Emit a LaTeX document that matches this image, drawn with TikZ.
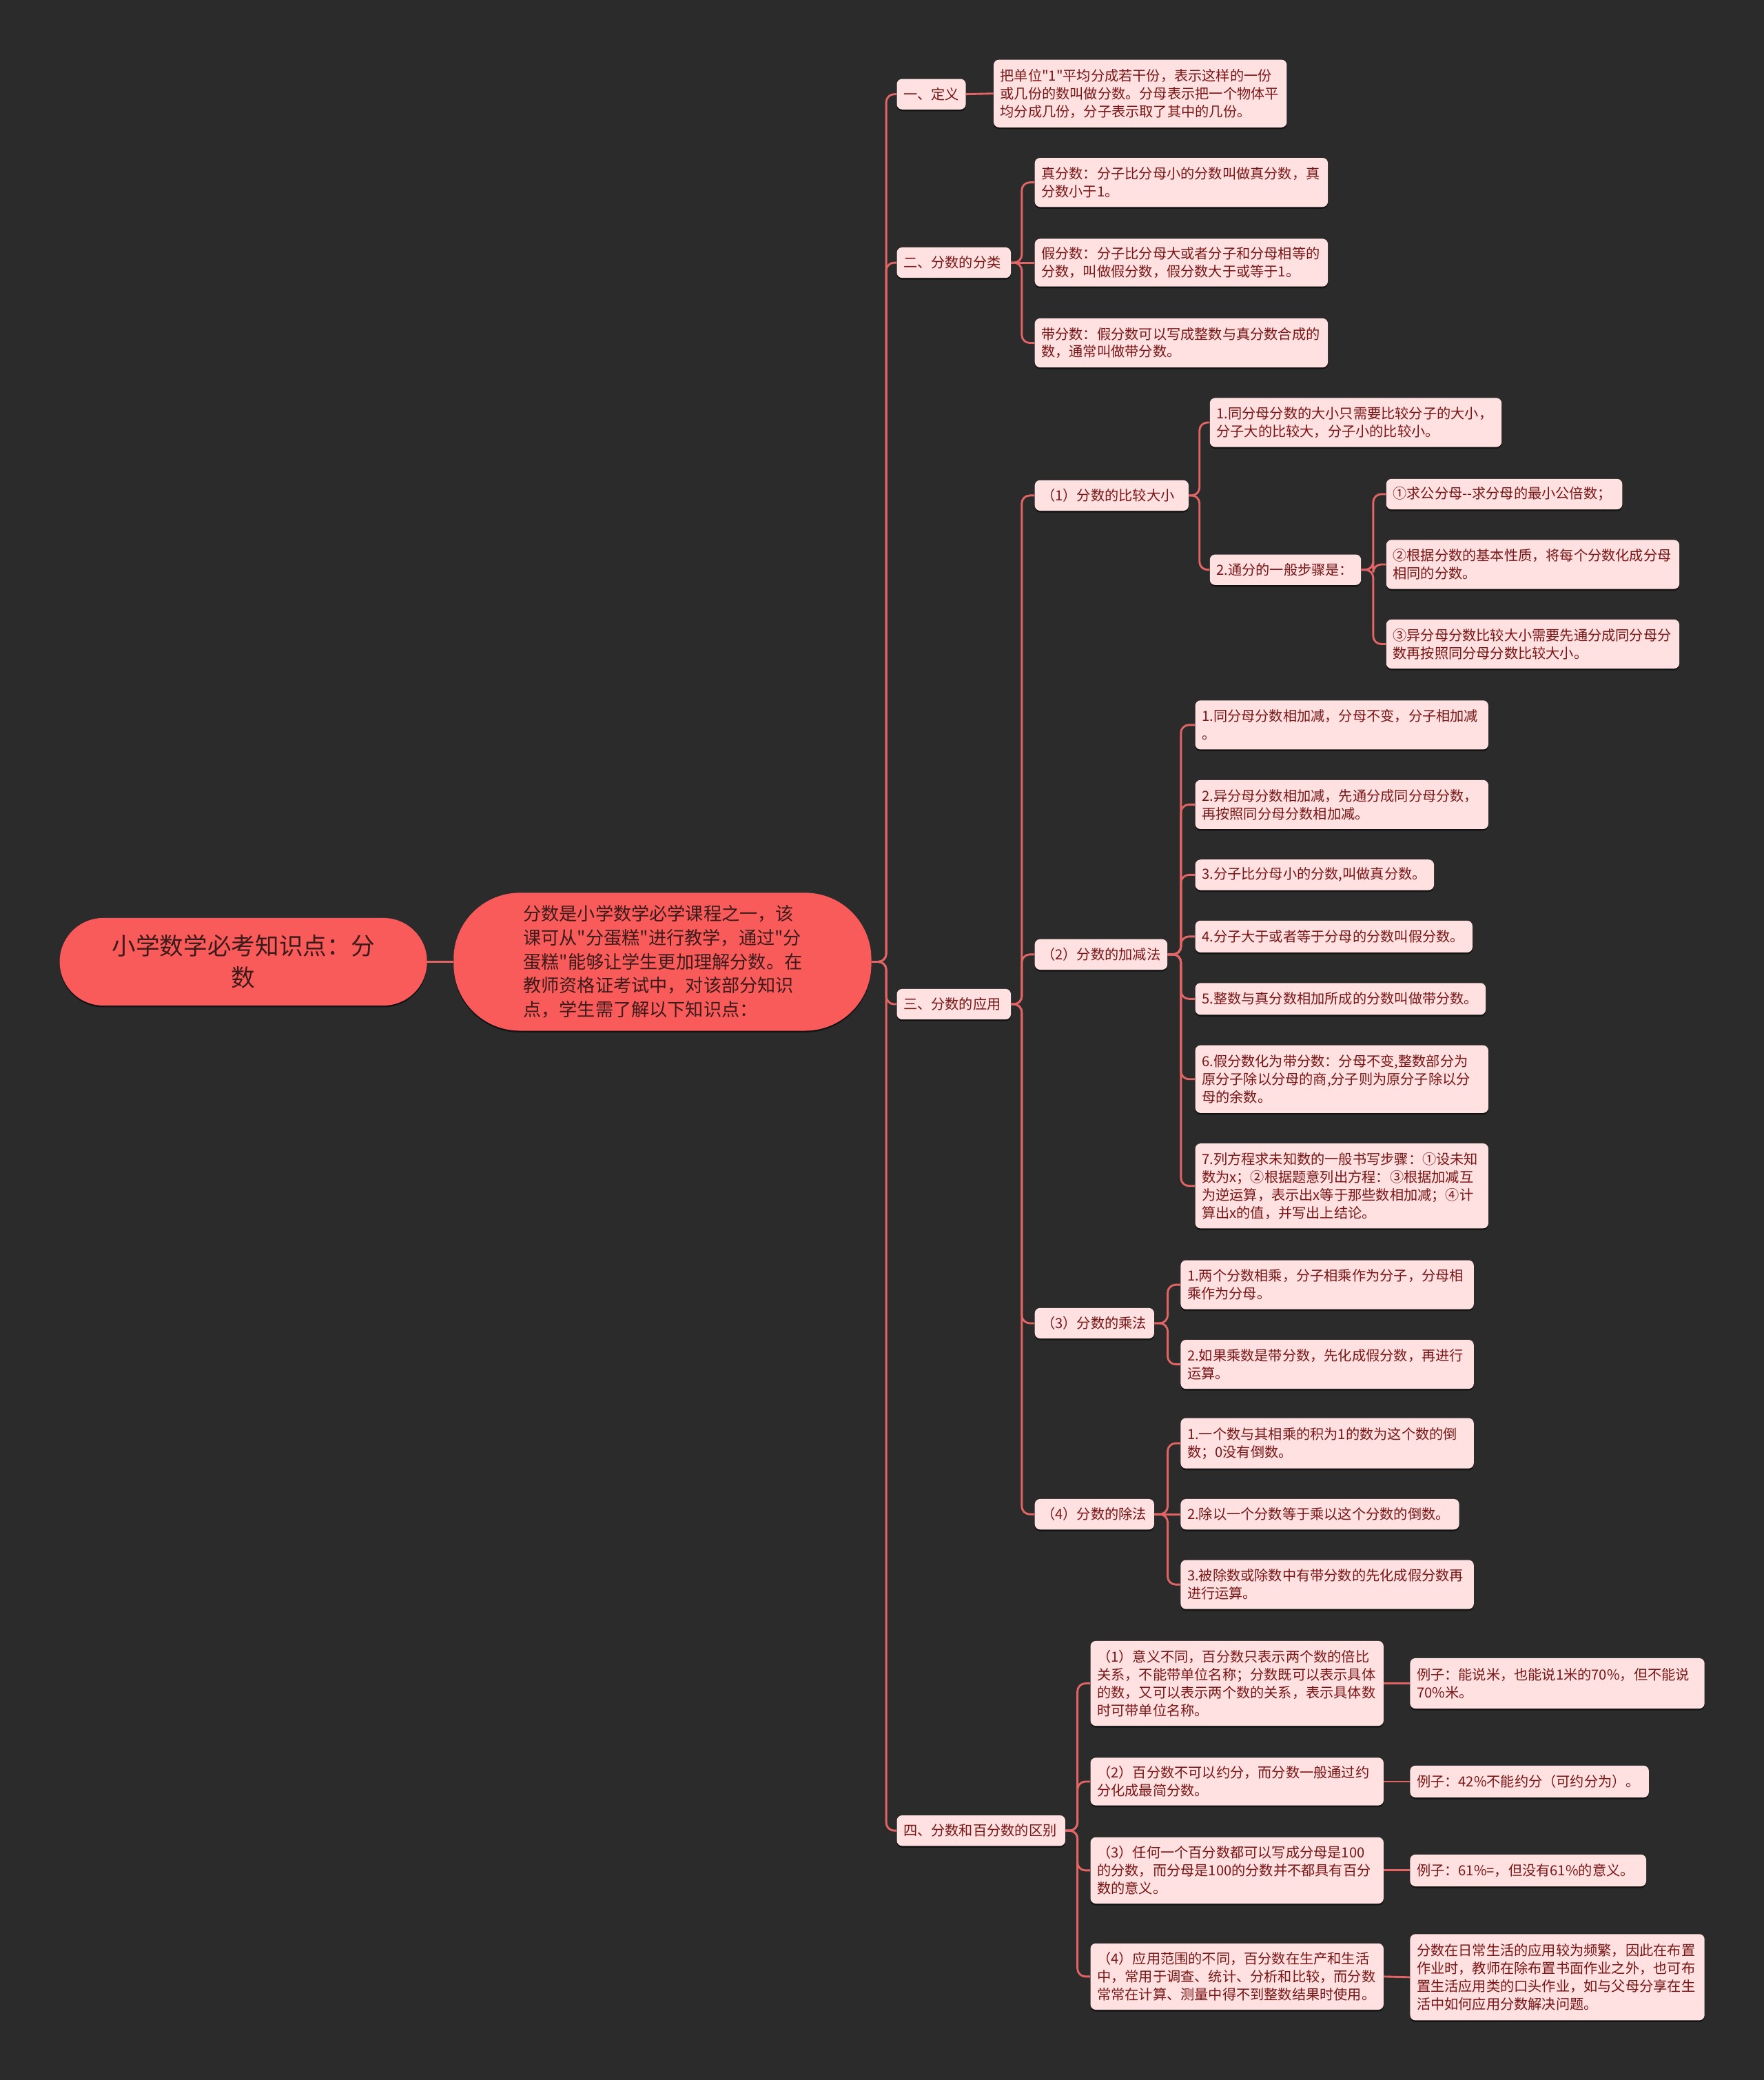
\documentclass[tikz,border=0pt]{standalone}
\usepackage{fontspec}
\setmainfont{Noto Sans CJK SC}[Ligatures=TeXOff]
\usetikzlibrary{shadows}
\definecolor{bg}{HTML}{2B2B2B}
\definecolor{rootfill}{HTML}{F95B5B}
\definecolor{roottext}{HTML}{3D1A1A}
\definecolor{leaffill}{HTML}{FFE1E1}
\definecolor{leaftext}{HTML}{7A1515}
\definecolor{linec}{HTML}{E36464}
\begin{document}
\begin{tikzpicture}[x=1pt,y=-1pt,
  shad/.style={drop shadow={shadow xshift=0pt,shadow yshift=-1.3pt,opacity=0.55,fill=black}},
  leaf/.style={anchor=west, fill=leaffill, text=leaftext, rounded corners=4pt,
    inner xsep=5pt, inner ysep=0pt, align=left,
    font=\fontsize{10.5}{13.5}\selectfont, shad},
  big/.style={fill=rootfill, text=roottext, inner sep=0pt, shad},
  conn/.style={draw=linec, line width=1.5pt, rounded corners=6pt},
]
\useasboundingbox (0,0) rectangle (1330,1568);
\fill[bg] (0,0) rectangle (1330,1568);

% root and centre
\node[big, rounded corners=32.9pt, minimum width=277pt, minimum height=66pt,
  align=center, font=\fontsize{18}{24}\selectfont] (root) at (183.5,725)
  {小学数学必考知识点：分\\数};
\node[big, rounded corners=50pt, minimum width=315pt, minimum height=104pt,
  text width=210pt, align=left, font=\fontsize{13.6}{18}\selectfont] (ctr) at (499.5,725)
  {分数是小学数学必学课程之一，该\\课可从"分蛋糕"进行教学，通过"分\\蛋糕"能够让学生更加理解分数。在\\教师资格证考试中，对该部分知识\\点，学生需了解以下知识点：};

% level 1
\node[leaf, text width=42pt, minimum height=23pt] (L1a) at (676,71) {一、定义};
\node[leaf, text width=76pt, minimum height=23pt] (L1b) at (676,198) {二、分数的分类};
\node[leaf, text width=76pt, minimum height=23pt] (L1c) at (676,757) {三、分数的应用};
\node[leaf, text width=117pt, minimum height=23pt] (L1d) at (676,1380) {四、分数和百分数的区别};

% definition
\node[leaf, text width=211pt, minimum height=51pt] (D1) at (749,70.5)
  {把单位"1"平均分成若干份，表示这样的一份\\或几份的数叫做分数。分母表示把一个物体平\\均分成几份，分子表示取了其中的几份。};

% classification
\node[leaf, text width=211pt, minimum height=37pt] (C1) at (780,137.5)
  {真分数：分子比分母小的分数叫做真分数，真\\分数小于1。};
\node[leaf, text width=211pt, minimum height=36pt] (C2) at (780,198)
  {假分数：分子比分母大或者分子和分母相等的\\分数，叫做假分数，假分数大于或等于1。};
\node[leaf, text width=211pt, minimum height=37pt] (C3) at (780,258.5)
  {带分数：假分数可以写成整数与真分数合成的\\数，通常叫做带分数。};

% application
\node[leaf, text width=106pt, minimum height=23pt] (A1) at (780,373.5) {（1）分数的比较大小};
\node[leaf, text width=90pt, minimum height=23pt] (A2) at (780,719.5) {（2）分数的加减法};
\node[leaf, text width=80pt, minimum height=23pt] (A3) at (780,997.5) {（3）分数的乘法};
\node[leaf, text width=80pt, minimum height=23pt] (A4) at (780,1141.5) {（4）分数的除法};

% (1)
\node[leaf, text width=210pt, minimum height=37pt] (B1) at (912,318.5)
  {1.同分母分数的大小只需要比较分子的大小，\\分子大的比较大，分子小的比较小。};
\node[leaf, text width=104pt, minimum height=23pt] (B2) at (912,429.5) {2.通分的一般步骤是：};
\node[leaf, text width=168pt, minimum height=23pt] (E1) at (1045,372.5) {①求公分母-{}-求分母的最小公倍数；};
\node[leaf, text width=211pt, minimum height=37pt] (E2) at (1045,425.5)
  {②根据分数的基本性质，将每个分数化成分母\\相同的分数。};
\node[leaf, text width=211pt, minimum height=37pt] (E3) at (1045,485.5)
  {③异分母分数比较大小需要先通分成同分母分\\数再按照同分母分数比较大小。};

% (2)
\node[leaf, text width=211pt, minimum height=37pt] (F1) at (901,546.5)
  {1.同分母分数相加减，分母不变，分子相加减\\。};
\node[leaf, text width=211pt, minimum height=37pt] (F2) at (901,606.5)
  {2.异分母分数相加减，先通分成同分母分数，\\再按照同分母分数相加减。};
\node[leaf, text width=170pt, minimum height=23pt] (F3) at (901,659.5) {3.分子比分母小的分数,叫做真分数。};
\node[leaf, text width=199pt, minimum height=24pt] (F4) at (901,706) {4.分子大于或者等于分母的分数叫假分数。};
\node[leaf, text width=209pt, minimum height=24pt] (F5) at (901,753) {5.整数与真分数相加所成的分数叫做带分数。};
\node[leaf, text width=211pt, minimum height=51pt] (F6) at (901,813.5)
  {6.假分数化为带分数：分母不变,整数部分为\\原分子除以分母的商,分子则为原分子除以分\\母的余数。};
\node[leaf, text width=211pt, minimum height=64pt] (F7) at (901,894)
  {7.列方程求未知数的一般书写步骤：①设未知\\数为x；②根据题意列出方程：③根据加减互\\为逆运算，表示出x等于那些数相加减；④计\\算出x的值，并写出上结论。};

% (3)
\node[leaf, text width=211pt, minimum height=37pt] (G1) at (890,968.5)
  {1.两个分数相乘，分子相乘作为分子，分母相\\乘作为分母。};
\node[leaf, text width=211pt, minimum height=37pt] (G2) at (890,1028.5)
  {2.如果乘数是带分数，先化成假分数，再进行\\运算。};

% (4)
\node[leaf, text width=211pt, minimum height=38pt] (H1) at (890,1088)
  {1.一个数与其相乘的积为1的数为这个数的倒\\数；0没有倒数。};
\node[leaf, text width=200pt, minimum height=23pt] (H2) at (890,1141.5) {2.除以一个分数等于乘以这个分数的倒数。};
\node[leaf, text width=211pt, minimum height=37pt] (H3) at (890,1194.5)
  {3.被除数或除数中有带分数的先化成假分数再\\进行运算。};

% four
\node[leaf, text width=211pt, minimum height=64pt] (P1) at (822,1269)
  {（1）意义不同，百分数只表示两个数的倍比\\关系，不能带单位名称；分数既可以表示具体\\的数，又可以表示两个数的关系，表示具体数\\时可带单位名称。};
\node[leaf, text width=211pt, minimum height=36pt] (P2) at (822,1343)
  {（2）百分数不可以约分，而分数一般通过约\\分化成最简分数。};
\node[leaf, text width=211pt, minimum height=50pt] (P3) at (822,1410)
  {（3）任何一个百分数都可以写成分母是100\\的分数，而分母是100的分数并不都具有百分\\数的意义。};
\node[leaf, text width=211pt, minimum height=50pt] (P4) at (822,1490)
  {（4）应用范围的不同，百分数在生产和生活\\中，常用于调查、统计、分析和比较，而分数\\常常在计算、测量中得不到整数结果时使用。};

\node[leaf, text width=212pt, minimum height=38pt] (Q1) at (1063,1269)
  {例子：能说米，也能说1米的70\%，但不能说\\70\%米。};
\node[leaf, text width=170pt, minimum height=24pt] (Q2) at (1063,1343) {例子：42\%不能约分（可约分为）。};
\node[leaf, text width=168pt, minimum height=24pt] (Q3) at (1063,1410) {例子：61\%=，但没有61\%的意义。};
\node[leaf, text width=212pt, minimum height=65pt] (Q4) at (1063,1490.5)
  {分数在日常生活的应用较为频繁，因此在布置\\作业时，教师在除布置书面作业之外，也可布\\置生活应用类的口头作业，如与父母分享在生\\活中如何应用分数解决问题。};

% connectors
\draw[conn] (root.east) -- (ctr.west);
\foreach \c in {L1a,L1b,L1c,L1d} \draw[conn] (ctr.east) -- ++(11,0) |- (\c.west);
\draw[conn] (L1a.east) -- (D1.west);
\foreach \c in {C1,C3} \draw[conn] (L1b.east) -- ++(8,0) |- (\c.west);
\draw[conn] (L1b.east) -- (C2.west);
\foreach \c in {A1,A2,A3,A4} \draw[conn] (L1c.east) -- ++(8,0) |- (\c.west);
\foreach \c in {B1,B2} \draw[conn] (A1.east) -- ++(8,0) |- (\c.west);
\foreach \c in {E1,E2,E3} \draw[conn] (B2.east) -- ++(9,0) |- (\c.west);
\foreach \c in {F1,F2,F3,F4,F5,F6,F7} \draw[conn] (A2.east) -- ++(10,0) |- (\c.west);
\foreach \c in {G1,G2} \draw[conn] (A3.east) -- ++(10,0) |- (\c.west);
\foreach \c in {H1,H3} \draw[conn] (A4.east) -- ++(10,0) |- (\c.west);
\draw[conn] (A4.east) -- (H2.west);
\foreach \c in {P1,P2,P3,P4} \draw[conn] (L1d.east) -- ++(9,0) |- (\c.west);
\draw[conn] (P1.east) -- (Q1.west);
\draw[conn] (P2.east) -- (Q2.west);
\draw[conn] (P3.east) -- (Q3.west);
\draw[conn] (P4.east) -- (Q4.west);
\end{tikzpicture}
\end{document}
